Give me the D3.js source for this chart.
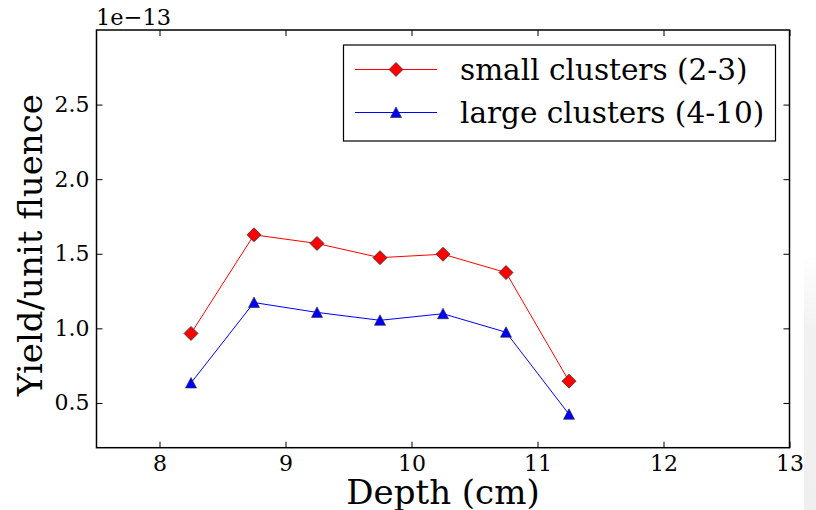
<!DOCTYPE html>
<meta charset="utf-8">
<script src="https://cdn.jsdelivr.net/npm/d3@7"></script>
<style>
body { margin: 0; background: #fff; }
text { font-family: "DejaVu Serif", serif; fill: #000; }
</style>
<body>
<script>
// depth (cm) and yield / unit fluence (x 1e-13)
var depth = [8.25, 8.75, 9.25, 9.75, 10.25, 10.75, 11.25];
var small = [0.966, 1.627, 1.569, 1.474, 1.497, 1.374, 0.646];
var large = [0.634, 1.173, 1.107, 1.054, 1.098, 0.974, 0.424];
var xTicks = [8, 9, 10, 11, 12, 13];
var yTicks = [0.5, 1.0, 1.5, 2.0, 2.5];
var seriesNames = ["small clusters (2-3)", "large clusters (4-10)"];

var width = 816, height = 510;
var mLeft = 96.5, mRight = 789.5, mTop = 30, mBottom = 447.7;

var svg = d3.select("body").append("svg")
    .attr("width", width)
    .attr("height", height);

// screenshot shadow strip on the right edge
var grad = svg.append("defs").append("linearGradient")
    .attr("id", "shade").attr("x1", 0).attr("y1", 0).attr("x2", 0).attr("y2", 1);
grad.append("stop").attr("offset", "0%").attr("stop-color", "#fff");
grad.append("stop").attr("offset", "50%").attr("stop-color", "#fff");
grad.append("stop").attr("offset", "65%").attr("stop-color", "#f1f1f1");
grad.append("stop").attr("offset", "100%").attr("stop-color", "#efefef");

var x = d3.scaleLinear().domain([7.5, 13]).range([mLeft, mRight]);
var y = d3.scaleLinear().domain([0.2, 3.0]).range([mBottom, mTop]);

var tl = 6;
svg.append("g")
    .attr("transform", "translate(0," + mBottom + ")")
    .call(d3.axisBottom(x).tickValues(xTicks).tickFormat(d3.format("d")).tickSizeInner(-tl).tickSizeOuter(0).tickPadding(8))
    .call(function(g) { g.select(".domain").remove(); });
svg.append("g")
    .attr("transform", "translate(0," + mTop + ")")
    .call(d3.axisTop(x).tickValues(xTicks).tickFormat("").tickSizeInner(-tl).tickSizeOuter(0))
    .call(function(g) { g.select(".domain").remove(); });
svg.append("g")
    .attr("transform", "translate(" + mLeft + ",0)")
    .call(d3.axisLeft(y).tickValues(yTicks).tickFormat(d3.format(".1f")).tickSizeInner(-tl).tickSizeOuter(0).tickPadding(7))
    .call(function(g) { g.select(".domain").remove(); });
svg.append("g")
    .attr("transform", "translate(" + mRight + ",0)")
    .call(d3.axisRight(y).tickValues(yTicks).tickFormat("").tickSizeInner(-tl).tickSizeOuter(0))
    .call(function(g) { g.select(".domain").remove(); });

svg.selectAll(".tick line").attr("stroke", "#000").attr("stroke-width", 1);
svg.selectAll(".tick text").attr("fill", "#000")
    .style("font-family", "DejaVu Serif").style("font-size", "22px");

svg.append("rect")
    .attr("x", mLeft).attr("y", mTop)
    .attr("width", mRight - mLeft).attr("height", mBottom - mTop)
    .attr("fill", "none").attr("stroke", "#000").attr("stroke-width", 1.5);

var line = d3.line()
    .x(function(d) { return x(d[0]); })
    .y(function(d) { return y(d[1]); });

var smallPts = d3.zip(depth, small);
var largePts = d3.zip(depth, large);

svg.append("path").datum(smallPts).attr("d", line)
    .attr("fill", "none").attr("stroke", "#ff0000").attr("stroke-width", 1);
svg.append("path").datum(largePts).attr("d", line)
    .attr("fill", "none").attr("stroke", "#0000ff").attr("stroke-width", 1);

var diamond = "M0,-7L7,0L0,7L-7,0Z";
var triangle = "M0,-5.5L5.5,5L-5.5,5Z";

svg.append("g").selectAll("path")
    .data(smallPts).enter().append("path")
    .attr("d", diamond)
    .attr("transform", function(d) { return "translate(" + x(d[0]) + "," + y(d[1]) + ")"; })
    .attr("fill", "#ff0000").attr("stroke", "#333").attr("stroke-width", 0.8);
svg.append("g").selectAll("path")
    .data(largePts).enter().append("path")
    .attr("d", triangle)
    .attr("transform", function(d) { return "translate(" + x(d[0]) + "," + y(d[1]) + ")"; })
    .attr("fill", "#0000ff").attr("stroke", "#222").attr("stroke-width", 0.6);

// legend
var lg = svg.append("g");
lg.append("rect")
    .attr("x", 343.5).attr("y", 45).attr("width", 432).attr("height", 96)
    .attr("fill", "#fff").attr("stroke", "#000").attr("stroke-width", 1.2);
var rows = [
  {name: seriesNames[0], color: "#ff0000", marker: diamond, y: 69.5},
  {name: seriesNames[1], color: "#0000ff", marker: triangle, y: 112.5}
];
rows.forEach(function(r) {
  lg.append("line").attr("x1", 355).attr("x2", 437).attr("y1", r.y).attr("y2", r.y)
      .attr("stroke", r.color).attr("stroke-width", 1);
  lg.append("path").attr("d", r.marker)
      .attr("transform", "translate(396," + r.y + ")")
      .attr("fill", r.color).attr("stroke", "#333").attr("stroke-width", 0.7);
  lg.append("text").attr("x", 460).attr("y", r.y + 10)
      .style("font-size", "29.5px").text(r.name);
});

// offset text and axis labels
svg.append("text").attr("x", 96).attr("y", 25).style("font-size", "22.5px").text("1e\u221213");

svg.append("text")
    .attr("x", (mLeft + mRight) / 2).attr("y", 503.5)
    .attr("text-anchor", "middle").style("font-size", "34px")
    .text("Depth (cm)");

svg.append("text")
    .attr("transform", "translate(42," + 245 + ") rotate(-90)")
    .attr("text-anchor", "middle").style("font-size", "34px")
    .text("Yield/unit fluence");

svg.append("rect").attr("x", 804).attr("y", 0).attr("width", 12).attr("height", height)
    .attr("fill", "url(#shade)");
</script>
</body>
